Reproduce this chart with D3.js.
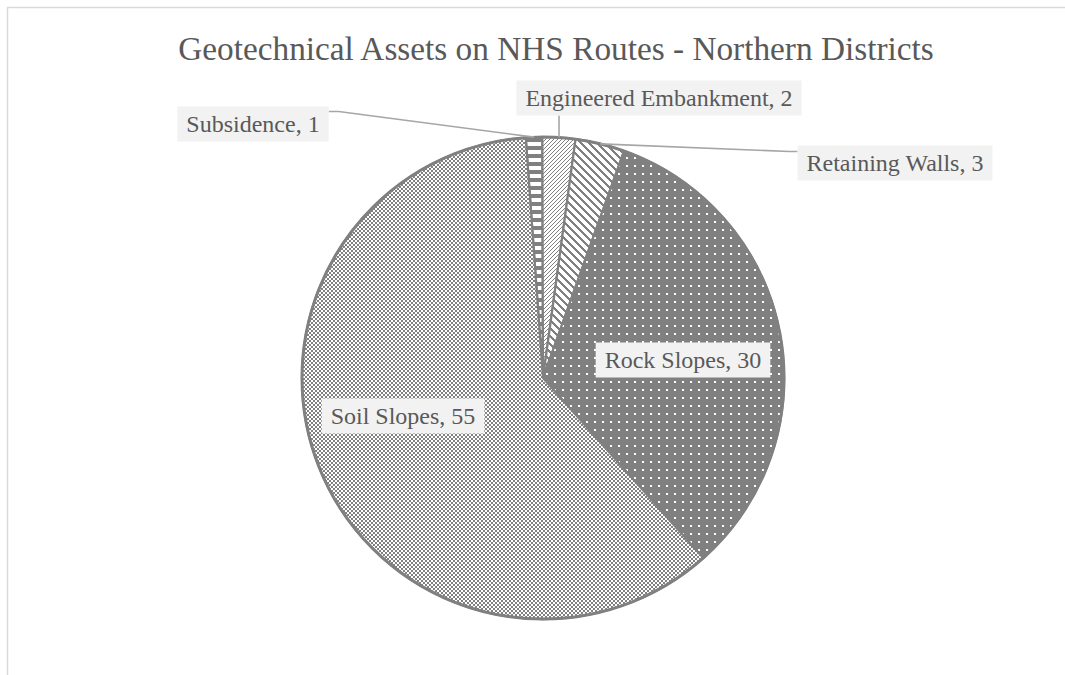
<!DOCTYPE html>
<html>
<head>
<meta charset="utf-8">
<script src="https://cdn.jsdelivr.net/npm/d3@7"></script>
<style>
  html, body { margin: 0; padding: 0; background: #ffffff; }
  svg { display: block; }
  text { font-family: "Liberation Serif", "Times New Roman", serif; }
</style>
</head>
<body>
<svg id="chart" width="1065" height="675"></svg>
<script>
// ---- data ----
const title = "Geotechnical Assets on NHS Routes - Northern Districts";
const categories = ["Subsidence", "Engineered Embankment", "Retaining Walls", "Rock Slopes", "Soil Slopes"];
const values = [1, 2, 3, 30, 55];
const patterns = ["hstripe", "lightUp", "wideDown", "dots", "checker"];

// ---- layout ----
const cx = 543, cy = 378, R = 241;
const startDeg = -4.1;
const gray = "#808080";
const labelPos = [ // label box centers
  [253, 124], [659, 98], [895, 163], [683, 360], [403, 416]
];

const svg = d3.select("#chart");
svg.append("rect").attr("x", 7.5).attr("y", 7.5).attr("width", 1100).attr("height", 700)
  .attr("fill", "#fff").attr("stroke", "#d9d9d9").attr("stroke-width", 1.5);

const defs = svg.append("defs");
function pat(id, w, h, bg, fg, pixels) {
  const p = defs.append("pattern").attr("id", id).attr("patternUnits", "userSpaceOnUse")
    .attr("x", 0).attr("y", 0).attr("width", w).attr("height", h);
  p.append("rect").attr("width", w).attr("height", h).attr("fill", bg).attr("shape-rendering", "crispEdges");
  const d = pixels.map(([x, y, pw, ph]) => `M${x},${y}h${pw || 1}v${ph || 1}h${-(pw || 1)}z`).join("");
  p.append("path").attr("d", d).attr("fill", fg).attr("shape-rendering", "crispEdges");
}
pat("hstripe", 8, 8, "#fff", gray, [[0, 0, 8, 4]]);
pat("lightUp", 4, 4, "#fff", gray, [[0, 3], [1, 2], [2, 1], [3, 0]]);
(function () {
  const px = [];
  for (let y = 0; y < 8; y++) for (let x = 0; x < 8; x++) if (((x - y) % 8 + 8) % 8 < 3) px.push([x, y]);
  pat("wideDown", 8, 8, "#fff", gray, px);
})();
pat("dots", 8, 8, gray, "#fff", [[3, 3, 2, 2]]);
pat("checker", 4, 4, "#fff", gray, [[0, 0, 2, 2], [2, 2, 2, 2]]);

// title
svg.append("text").attr("x", 556).attr("y", 60).attr("text-anchor", "middle")
  .attr("font-size", 33.3).attr("fill", "#595959").text(title);

const data = categories.map((c, i) => ({ cat: c, value: values[i], pat: patterns[i] }));
const s0 = startDeg * Math.PI / 180;
const pie = d3.pie().sort(null).value(d => d.value).startAngle(s0).endAngle(s0 + 2 * Math.PI);
const arc = d3.arc().innerRadius(0).outerRadius(R);
const arcs = pie(data);

const g = svg.append("g").attr("transform", `translate(${cx},${cy})`);
g.selectAll("path.slice").data(arcs).join("path").attr("class", "slice")
  .attr("d", arc).attr("fill", d => `url(#${d.data.pat})`)
  .attr("stroke", gray).attr("stroke-width", 2.2).attr("stroke-linejoin", "round");
g.append("circle").attr("r", R).attr("fill", "none").attr("stroke", gray).attr("stroke-width", 3);

// leader lines and labels
function edgePoint(d) {
  const a = (d.startAngle + d.endAngle) / 2;
  return [cx + R * Math.sin(a), cy - R * Math.cos(a)];
}
const lines = svg.append("g");
const lab = svg.append("g");
const boxes = [];
arcs.forEach((d, i) => {
  const [lx, ly] = labelPos[i];
  const t = lab.append("text").attr("x", lx).attr("y", ly + 8).attr("text-anchor", "middle")
    .attr("font-size", 24).attr("fill", "#595959").text(`${d.data.cat}, ${d.data.value}`);
  const tw = t.node().getComputedTextLength();
  const bw = tw + 18, bh = 35;
  boxes.push({ x: lx - bw / 2, y: ly - bh / 2, w: bw, h: bh, t });
});
const lineAttr = sel => sel.attr("fill", "none").attr("stroke", "#a6a6a6").attr("stroke-width", 1.6);
const pts = arr => arr.map(q => q.join(",")).join(" ");
{ // Subsidence
  const b = boxes[0], p = edgePoint(arcs[0]);
  lines.append("polyline").call(lineAttr).attr("points", pts([[b.x + b.w, b.y + 5], [b.x + b.w + 10, b.y + 5], p]));
}
{ // Engineered Embankment
  const b = boxes[1], p = edgePoint(arcs[1]);
  lines.append("polyline").call(lineAttr).attr("points", pts([[p[0], b.y + b.h], p]));
}
{ // Retaining Walls
  const b = boxes[2], p = edgePoint(arcs[2]);
  lines.append("polyline").call(lineAttr).attr("points", pts([[b.x, b.y + 6], [b.x - 8, b.y + 6], p]));
}
boxes.forEach(b => {
  lab.insert("rect", () => b.t.node()).attr("x", b.x).attr("y", b.y).attr("width", b.w).attr("height", b.h)
    .attr("fill", "#f2f2f2");
});
</script>
</body>
</html>
